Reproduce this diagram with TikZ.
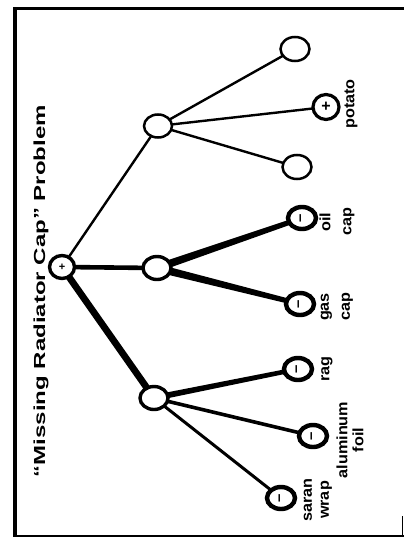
\documentclass[tikz,border=0pt]{standalone}
\usepackage{fontspec}
\setmainfont{Liberation Sans}
\usetikzlibrary{shapes.geometric,calc}
\tikzset{
  ring/.style={ellipse,draw,fill=white,inner sep=0pt},
  midnode/.style={ring,minimum width=28pt,minimum height=23pt,line width=3.4pt},
  emptyleaf/.style={ring,minimum width=29pt,minimum height=24pt,line width=2.5pt},
  negleaf/.style={ring,minimum width=28pt,minimum height=22pt,line width=4.4pt,
     font=\fontsize{15}{15}\selectfont\bfseries},
  posleaf/.style={ring,minimum width=26pt,minimum height=25pt,line width=3.2pt,
     font=\fontsize{16}{16}\selectfont\bfseries},
  rootnode/.style={ring,minimum width=25pt,minimum height=23pt,line width=3.4pt,
     font=\fontsize{11}{11}\selectfont\bfseries},
  lab/.style={rotate=90,xscale=1.08,align=center,inner sep=0pt,
     font=\fontsize{15}{16}\selectfont\bfseries},
  thinedge/.style={line width=2.4pt}
}
\newcommand{\minusmark}{\rotatebox{90}{--}}
\begin{document}
\begin{tikzpicture}[x=1pt,y=-1pt]
\useasboundingbox (0,0) rectangle (404,538);
% frame
\coordinate (ftl) at (14.7,7);
\coordinate (fbl) at (14.7,536);
\coordinate (ftl2) at (13,8.3);
\coordinate (ftr) at (404,8.3);
\coordinate (fbl2) at (13,535.7);
\coordinate (fbr) at (404,535.7);
\coordinate (frt) at (402.8,516);
\coordinate (frb) at (402.8,536);
\draw[line width=4pt] (ftl) -- (fbl);
\draw[line width=3pt] (ftl2) -- (ftr);
\draw[line width=2pt] (fbl2) -- (fbr);
\draw[line width=1pt] (frt) -- (frb);
% title
\node[rotate=90,xscale=1.5,inner sep=0pt,font=\fontsize{16}{16}\selectfont\bfseries] (title) at (41,291) {\char"201C Missing Radiator Cap\char"201D{} Problem};
% coordinates of nodes
\coordinate (R) at (62,267);
\coordinate (mA) at (158,126);
\coordinate (mB) at (157,268);
\coordinate (mC) at (154,398);
\coordinate (A1) at (295,49);
\coordinate (A2) at (326,107);
\coordinate (A3) at (297,167);
\coordinate (B1) at (302,218);
\coordinate (B2) at (300,304);
\coordinate (C1) at (298,369);
\coordinate (C2) at (313,436);
\coordinate (C3) at (281,498);
% edges
\draw[thinedge] (R) -- (mA);
\draw[line width=4.6pt] (R) -- (mB);
\fill ($(R)!3.4pt!90:(mC)$) -- ($(R)!3.4pt!-90:(mC)$) -- ($(mC)!3.4pt!90:(R)$) -- ($(mC)!3.4pt!-90:(R)$) -- cycle;
\draw[thinedge] (mA) -- (A1);
\draw[thinedge] (mA) -- (A2);
\draw[thinedge] (mA) -- (A3);
\fill ($(mB)!4pt!90:(B1)$) -- ($(mB)!4pt!-90:(B1)$) -- ($(B1)!2.4pt!90:(mB)$) -- ($(B1)!2.4pt!-90:(mB)$) -- cycle;
\fill ($(mB)!4pt!90:(B2)$) -- ($(mB)!4pt!-90:(B2)$) -- ($(B2)!2.4pt!90:(mB)$) -- ($(B2)!2.4pt!-90:(mB)$) -- cycle;
\fill ($(mC)!3pt!90:(C1)$) -- ($(mC)!3pt!-90:(C1)$) -- ($(C1)!2.2pt!90:(mC)$) -- ($(C1)!2.2pt!-90:(mC)$) -- cycle;
\draw[line width=3.6pt] (mC) -- (C2);
\draw[line width=3pt] (mC) -- (C3);
% nodes
\node[rootnode] (nR) at (R) {+};
\node[emptyleaf,minimum width=28pt,minimum height=23pt] (nmA) at (mA) {};
\node[midnode] (nmB) at (mB) {};
\node[midnode] (nmC) at (mC) {};
\node[emptyleaf] (nA1) at (A1) {};
\node[posleaf] (nA2) at (A2) {+};
\node[emptyleaf] (nA3) at (A3) {};
\node[negleaf] (nB1) at (B1) {\minusmark};
\node[negleaf] (nB2) at (B2) {\minusmark};
\node[negleaf] (nC1) at (C1) {\minusmark};
\node[negleaf] (nC2) at (C2) {\minusmark};
\node[negleaf] (nC3) at (C3) {\minusmark};
% labels
\node[lab] (lA2) at (351,104) {potato};
\node[lab,font=\fontsize{15}{21}\selectfont\bfseries] (lB1) at (337,222) {oil\\cap};
\node[lab,font=\fontsize{15}{21}\selectfont\bfseries] (lB2) at (337,307) {gas\\cap};
\node[lab] (lC1) at (327,369) {rag};
\node[lab] (lC2) at (350,440) {aluminum\\foil};
\node[lab,font=\fontsize{15}{17}\selectfont\bfseries] (lC3) at (318,500) {saran\\wrap};
\end{tikzpicture}
\end{document}
